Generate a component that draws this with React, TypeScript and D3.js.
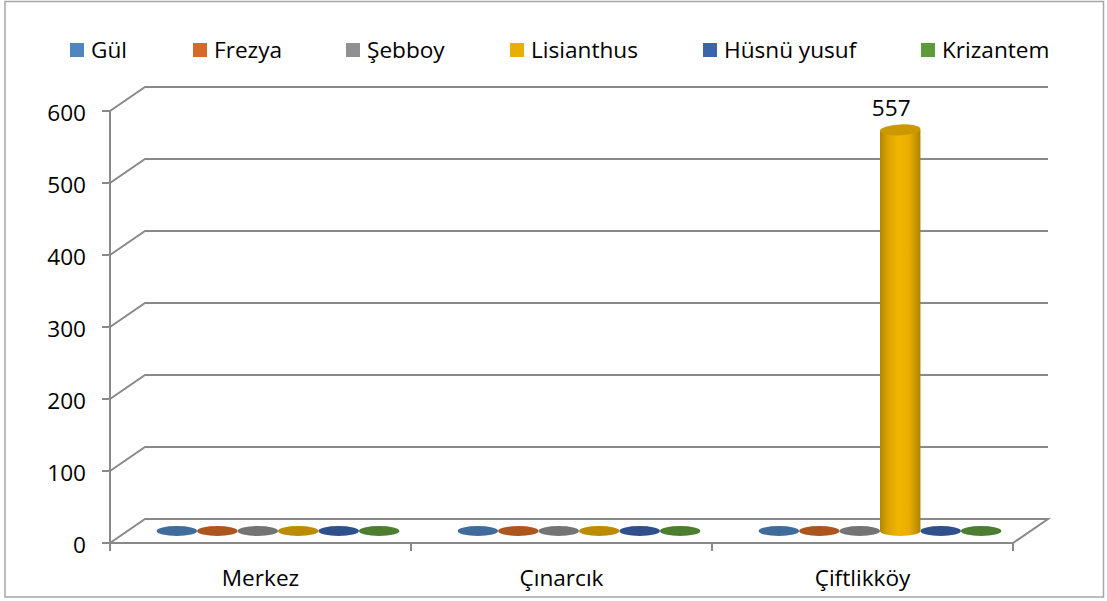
import React from "react";
import * as d3 from "d3";

const categories = ["Merkez", "Çınarcık", "Çiftlikköy"];
const seriesNames = ["Gül", "Frezya", "Şebboy", "Lisianthus", "Hüsnü yusuf", "Krizantem"];
const gul = [0, 0, 0];
const frezya = [0, 0, 0];
const sebboy = [0, 0, 0];
const lisianthus = [0, 0, 557];
const husnuYusuf = [0, 0, 0];
const krizantem = [0, 0, 0];
const seriesValues = [gul, frezya, sebboy, lisianthus, husnuYusuf, krizantem];
const seriesColors = ["#4F86C0", "#D46A27", "#909090", "#E8AE00", "#3C63AE", "#5F9B3B"];
const yTicks = [0, 100, 200, 300, 400, 500, 600];

const W = 1107;
const H = 601;
const FONT = "'Open Sans', sans-serif";
const FS = 22.6;
const DX = 35;
const DY = -24;
const legendX = [70, 193, 346, 510, 703, 921];

export default function App() {
  const y = d3.scaleLinear().domain([0, 600]).range([543, 111]);
  const x0 = d3.scaleBand<string>().domain(categories).range([110, 1013]);
  const x1 = d3
    .scaleBand<string>()
    .domain(seriesNames)
    .range([0, x0.bandwidth()])
    .paddingInner(0)
    .paddingOuter(0.72);
  const bw = x1.bandwidth();
  const rx = bw / 2;
  const ry = 5;
  const midX = DX / 2;
  const midY = DY / 2;
  const grid = "#898989";

  const bars: { s: number; c: number; v: number }[] = [];
  seriesValues.forEach((arr, s) => arr.forEach((v, c) => bars.push({ s, c, v })));
  const zeroBars = bars.filter((b) => b.v === 0);
  const tallBars = bars.filter((b) => b.v > 0);

  return (
    <svg
      width={W}
      height={H}
      style={{ position: "absolute", left: 0, top: 0, background: "#fff" }}
      fontFamily={FONT}
    >
      <defs>
        {seriesColors.map((c, i) => {
          const base = d3.color(c)!;
          return (
            <linearGradient key={i} id={`body${i}`} x1="0" x2="1" y1="0" y2="0">
              <stop offset="0%" stopColor={base.darker(0.75).formatHex()} />
              <stop offset="18%" stopColor={base.darker(0.2).formatHex()} />
              <stop offset="45%" stopColor={base.brighter(0.12).formatHex()} />
              <stop offset="72%" stopColor={base.formatHex()} />
              <stop offset="100%" stopColor={base.darker(0.8).formatHex()} />
            </linearGradient>
          );
        })}
      </defs>
      <rect x={5} y={1.5} width={1098.5} height={595.5} fill="#fff" stroke="#a6a6a6" strokeWidth={1.5} />

      {/* legend */}
      {seriesNames.map((n, i) => (
        <g key={n}>
          <rect x={legendX[i]} y={43} width={14} height={14} fill={seriesColors[i]} />
          <text x={legendX[i] + 21} y={58} fontSize={FS} fill="#000">
            {n}
          </text>
        </g>
      ))}

      {/* gridlines with left wall diagonal */}
      {yTicks.map((t) => (
        <g key={t}>
          {t > 0 && (
            <path
              d={`M${110},${y(t)}L${110 + DX},${y(t) + DY}L${1013 + DX},${y(t) + DY}`}
              fill="none"
              stroke={grid}
              strokeWidth={2}
            />
          )}
          <line x1={102} x2={110} y1={y(t)} y2={y(t)} stroke={grid} strokeWidth={2} />
          <text x={86} y={y(t) + 10} fontSize={FS} textAnchor="end" fill="#000">
            {t}
          </text>
        </g>
      ))}

      {/* floor */}
      <path
        d={`M${110},${y(0)}L${110 + DX},${y(0) + DY}L${1013 + DX},${y(0) + DY}L${1013},${y(0)}Z`}
        fill="none"
        stroke={grid}
        strokeWidth={2}
      />
      {/* y axis */}
      <line x1={110} x2={110} y1={y(600)} y2={y(0) + 7} stroke={grid} strokeWidth={2} />
      {/* category ticks */}
      {[...categories.map((c) => x0(c)!), 1013].map((xv, i) => (
        <line key={i} x1={xv} x2={xv} y1={y(0)} y2={y(0) + 8} stroke={grid} strokeWidth={2} />
      ))}

      {/* category labels */}
      {categories.map((c) => (
        <text key={c} x={x0(c)! + x0.bandwidth() / 2} y={586} fontSize={FS} textAnchor="middle" fill="#000">
          {c}
        </text>
      ))}

      {/* zero-height bars */}
      {zeroBars.map((b) => {
        const cx = x0(categories[b.c])! + x1(seriesNames[b.s])! + bw / 2 + midX;
        const cy = y(0) + midY;
        return (
          <ellipse
            key={`z${b.s}-${b.c}`}
            cx={cx}
            cy={cy}
            rx={rx}
            ry={ry}
            fill={d3.color(seriesColors[b.s])!.darker(0.6).formatHex()}
          />
        );
      })}

      {/* cylinders */}
      {tallBars.map((b) => {
        const cx = x0(categories[b.c])! + x1(seriesNames[b.s])! + bw / 2 + midX;
        const yb = y(0) + midY;
        const yt = y(b.v) + midY;
        const base = d3.color(seriesColors[b.s])!;
        return (
          <g key={`t${b.s}-${b.c}`}>
            <path
              d={`M${cx - rx},${yt}L${cx - rx},${yb}A${rx},${ry} 0 0 0 ${cx + rx},${yb}L${cx + rx},${yt}Z`}
              fill={`url(#body${b.s})`}
            />
            <ellipse
              cx={cx}
              cy={yt}
              rx={rx}
              ry={ry + 0.5}
              transform={`rotate(-3 ${cx} ${yt})`}
              fill={base.darker(0.38).formatHex()}
            />
            <text x={cx - 9} y={yt - 14} fontSize={FS} textAnchor="middle" fill="#000">
              {b.v}
            </text>
          </g>
        );
      })}
    </svg>
  );
}
